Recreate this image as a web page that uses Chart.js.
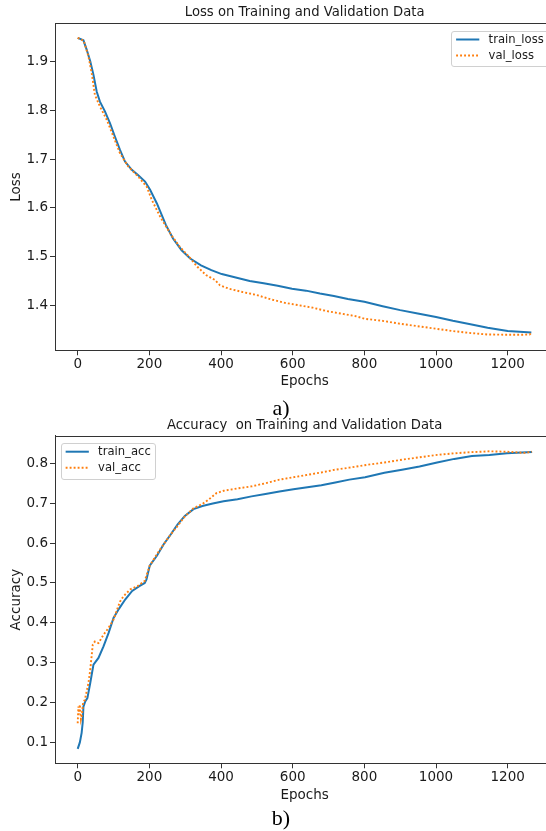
<!DOCTYPE html>
<html><head><meta charset="utf-8">
<script src="https://cdn.jsdelivr.net/npm/chart.js@4.4.1/dist/chart.umd.min.js"></script>
<style>
html,body{margin:0;padding:0;background:#fff;overflow:hidden;width:546px;height:831px;}
#wrap{position:relative;width:546px;height:831px;overflow:hidden;background:#fff;}
canvas{position:absolute;left:0;}
#c1{top:0;} #c2{top:412px;}
.cap{position:absolute;left:0;width:562px;height:24px;line-height:24px;text-align:center;font-family:"Liberation Serif","Times New Roman",serif;font-size:22px;color:#000;z-index:2;}
</style></head>
<body>
<div id="wrap">
<canvas id="c1" width="580" height="400"></canvas>
<canvas id="c2" width="580" height="400"></canvas>
<div class="cap" style="top:396px;">a)</div>
<div class="cap" style="top:806px;">b)</div>
</div>
<script>
// ---------- data ----------
const epochTicks = [0, 200, 400, 600, 800, 1000, 1200];
const lossTicks = [1.4, 1.5, 1.6, 1.7, 1.8, 1.9];
const accTicks = [0.1, 0.2, 0.3, 0.4, 0.5, 0.6, 0.7, 0.8];

const trainLossEpochs = [0,16,25,35,44,53,62,76,90,104,118,132,151,169,188,202,221,246,266,290,314,344,373,402,441,480,519,558,598,637,676,715,754,800,851,900,949,1000,1047,1096,1144,1200,1266];
const trainLoss = [1.949,1.944,1.925,1.901,1.873,1.839,1.818,1.798,1.774,1.746,1.719,1.695,1.678,1.667,1.654,1.637,1.609,1.565,1.537,1.513,1.496,1.482,1.472,1.464,1.457,1.450,1.445,1.440,1.434,1.430,1.424,1.419,1.413,1.407,1.398,1.390,1.383,1.376,1.368,1.361,1.354,1.347,1.344];

const valLossEpochs = [0,17,30,39,48,62,81,100,118,141,169,193,207,230,261,285,310,334,358,383,397,422,461,500,539,578,617,656,695,734,773,803,851,900,949,998,1047,1096,1144,1193,1242,1261,1266];
const valLoss = [1.949,1.943,1.911,1.877,1.832,1.808,1.781,1.746,1.712,1.685,1.664,1.643,1.616,1.582,1.544,1.520,1.500,1.479,1.462,1.452,1.441,1.434,1.427,1.421,1.412,1.405,1.400,1.395,1.388,1.383,1.378,1.372,1.368,1.362,1.357,1.352,1.347,1.343,1.340,1.3395,1.3395,1.340,1.343];

const trainAccEpochs = [0,6,11,14,16,21,27,35,44,58,72,86,100,115,133,152,172,187,192,201,221,240,260,279,299,323,348,377,407,446,485,524,563,602,641,680,719,758,802,856,905,954,1003,1051,1100,1149,1198,1268];
const trainAcc = [0.084,0.100,0.124,0.150,0.190,0.203,0.211,0.249,0.295,0.312,0.341,0.374,0.412,0.435,0.459,0.480,0.492,0.500,0.509,0.543,0.568,0.597,0.622,0.647,0.668,0.685,0.693,0.699,0.705,0.710,0.717,0.723,0.729,0.735,0.740,0.745,0.752,0.759,0.765,0.776,0.784,0.792,0.802,0.811,0.818,0.821,0.825,0.828];

const valAccEpochs = [0,2,4,6,9,12,15,20,30,35,42,48,58,72,86,100,118,128,147,167,187,201,221,240,260,279,299,323,348,367,387,407,446,485,524,563,602,641,680,719,758,807,856,905,954,1003,1051,1100,1149,1198,1247,1268];
const valAcc = [0.148,0.190,0.170,0.195,0.158,0.170,0.200,0.207,0.249,0.282,0.345,0.353,0.349,0.370,0.387,0.408,0.453,0.467,0.484,0.492,0.505,0.543,0.572,0.597,0.622,0.643,0.667,0.687,0.698,0.710,0.725,0.731,0.737,0.742,0.750,0.759,0.765,0.771,0.777,0.784,0.789,0.796,0.802,0.809,0.815,0.821,0.825,0.828,0.830,0.829,0.826,0.829];

// ---------- styling / helpers ----------
const FONT = '"DejaVu Sans", sans-serif';
const TXT = '#1a1a1a';
const SPINE = '#333';
const pts = (xs, ys) => xs.map((x, i) => ({x: x, y: ys[i]}));

const frame = {
  id: 'frame',
  afterDraw(chart) {
    const {ctx, chartArea: ca} = chart;
    ctx.save();
    ctx.strokeStyle = SPINE; ctx.lineWidth = 1;
    const t = Math.round(ca.top) + 0.5, r = Math.round(ca.right) + 0.5;
    ctx.beginPath();
    ctx.moveTo(ca.left, t); ctx.lineTo(r, t); ctx.lineTo(r, ca.bottom);
    ctx.stroke();
    ctx.restore();
  }
};

const mplLegend = {
  id: 'mplLegend',
  afterDatasetsDraw(chart, args, o) {
    const {ctx, chartArea: ca} = chart;
    const fs = o.fontSize;
    ctx.save();
    ctx.font = fs + 'px ' + FONT;
    const ds = chart.data.datasets;
    const tw = Math.max(...ds.map(d => ctx.measureText(d.label).width));
    const pad = 0.4 * fs, hl = 2 * fs, htp = 0.8 * fs;
    const w = pad + hl + htp + tw + pad;
    const h = o.boxHeight;
    const x = o.corner === 'ur' ? ca.right - o.inset - w : ca.left + o.inset;
    const y = ca.top + o.insetTop;
    ctx.beginPath();
    ctx.roundRect(Math.round(x) + 0.5, Math.round(y) + 0.5, Math.round(w), Math.round(h), 2.5);
    ctx.fillStyle = 'rgba(255,255,255,0.8)';
    ctx.fill();
    ctx.strokeStyle = '#d0d0d0'; ctx.lineWidth = 1;
    ctx.stroke();
    ds.forEach((d, i) => {
      const cy = y + o.firstRow + i * o.rowPitch;
      ctx.save();
      ctx.strokeStyle = d.borderColor; ctx.lineWidth = d.borderWidth;
      ctx.setLineDash(d.borderDash || []);
      ctx.beginPath(); ctx.moveTo(x + pad, cy); ctx.lineTo(x + pad + hl, cy); ctx.stroke();
      ctx.restore();
      ctx.fillStyle = TXT; ctx.textBaseline = 'middle'; ctx.textAlign = 'left';
      ctx.fillText(d.label, x + pad + hl + htp, cy);
    });
    ctx.restore();
  }
};

function makeChart(id, cfg) {
  const W = 580, H = 400;
  const areaRight = 554.4;
  return new Chart(document.getElementById(id), {
    type: 'line',
    data: { datasets: cfg.datasets },
    options: {
      responsive: false, animation: false, events: [],
      layout: { padding: { left: 0, right: W - areaRight, top: 0, bottom: 0 } },
      plugins: {
        legend: { display: false }, tooltip: { enabled: false },
        title: { display: true, text: cfg.title, fullSize: false, color: TXT,
          font: { family: FONT, size: 13.2, weight: 'normal', lineHeight: 1.2 },
          padding: { top: cfg.titleTop, bottom: cfg.titleBlock - cfg.titleTop - 15.84 } },
        mplLegend: cfg.legend
      },
      scales: {
        x: {
          type: 'linear', min: -63.35, max: 1330.35,
          afterBuildTicks: s => { s.ticks = epochTicks.map(v => ({value: v})); },
          afterFit: s => { s.height = H - cfg.areaBottom; },
          ticks: { callback: v => String(v), color: TXT, font: { family: FONT, size: 13.5 }, padding: cfg.xTickPad, maxRotation: 0, autoSkip: false },
          grid: { display: true, drawOnChartArea: false, drawTicks: true, tickLength: 5, tickColor: SPINE, tickWidth: 1 },
          border: { display: true, color: SPINE, width: 1 },
          title: { display: true, text: 'Epochs', color: TXT, font: { family: FONT, size: 13.5, lineHeight: 1.2 }, padding: { top: 0, bottom: cfg.xTitlePad } }
        },
        y: {
          type: 'linear', min: cfg.yMin, max: cfg.yMax,
          afterBuildTicks: s => { s.ticks = cfg.yTicks.map(v => ({value: v})); },
          afterFit: s => { s.width = 55; },
          ticks: { callback: v => v.toFixed(1), color: TXT, font: { family: FONT, size: 13.5 }, padding: 2 },
          grid: { display: true, drawOnChartArea: false, drawTicks: true, tickLength: 5, tickColor: SPINE, tickWidth: 1 },
          border: { display: true, color: SPINE, width: 1 },
          title: { display: true, text: cfg.yLabel, color: TXT, font: { family: FONT, size: 13.5, lineHeight: 1.2 }, padding: { top: 8.6, bottom: 0 } }
        }
      }
    },
    plugins: [frame, mplLegend]
  });
}

const lineOpts = (label, xs, ys, color, dash, order) => ({
  label: label, data: pts(xs, ys), borderColor: color, backgroundColor: color,
  borderWidth: dash ? 1.9 : 2.0, borderDash: dash ? [1.9, 2.1] : [], borderCapStyle: 'butt',
  pointRadius: 0, tension: 0, fill: false, order: order
});

makeChart('c1', {
  title: 'Loss on Training and Validation Data',
  titleTop: 4.8, titleBlock: 23.5, areaBottom: 350.3, xTickPad: 0.9, xTitlePad: 10.2,
  yMin: 1.3075, yMax: 1.9785, yTicks: lossTicks, yLabel: 'Loss',
  legend: { corner: 'ur', fontSize: 11.6, inset: 6, insetTop: 7.5, boxHeight: 35, firstRow: 8.5, rowPitch: 16 },
  datasets: [
    lineOpts('train_loss', trainLossEpochs, trainLoss, '#1f77b4', false, 1),
    lineOpts('val_loss', valLossEpochs, valLoss, '#ff7f0e', true, 0)
  ]
});

makeChart('c2', {
  title: 'Accuracy  on Training and Validation Data',
  titleTop: 5.6, titleBlock: 24, areaBottom: 351.3, xTickPad: 1.1, xTitlePad: 8.9,
  yMin: 0.0477, yMax: 0.8684, yTicks: accTicks, yLabel: 'Accuracy',
  legend: { corner: 'ul', fontSize: 11.6, inset: 6, insetTop: 6.7, boxHeight: 36, firstRow: 9, rowPitch: 16 },
  datasets: [
    lineOpts('train_acc', trainAccEpochs, trainAcc, '#1f77b4', false, 1),
    lineOpts('val_acc', valAccEpochs, valAcc, '#ff7f0e', true, 0)
  ]
});
</script>
</body></html>
